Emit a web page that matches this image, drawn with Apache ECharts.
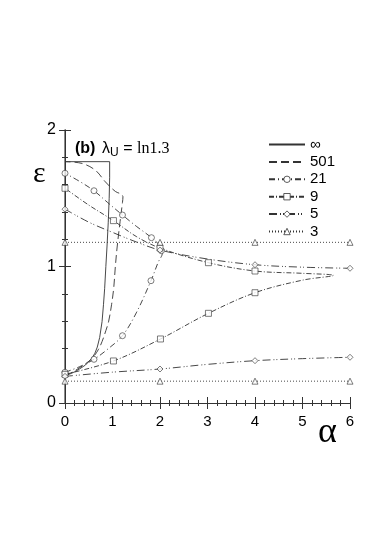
<!DOCTYPE html>
<html><head><meta charset="utf-8">
<script src="https://cdn.jsdelivr.net/npm/echarts@6/dist/echarts.min.js"></script>
<style>html,body{margin:0;padding:0;background:#fff}#c{width:391px;height:559px}</style>
</head><body><div id="c"></div>
<script>
// ---- data (alpha, epsilon) ----
const xTicks = [0,1,2,3,4,5,6];
const yTicks = [0,1,2];
const legendNames = ['∞','501','21','9','5','3'];

// N = infinity (solid)
const curveInf = [[0,0.2],[0.1,0.212],[0.2,0.228],[0.3,0.248],[0.43,0.278],[0.55,0.32],[0.63,0.365],[0.68,0.41],[0.73,0.48],[0.78,0.596],[0.81,0.72],[0.835,0.84],[0.86,1.0],[0.885,1.15],[0.91,1.32],[0.93,1.5],[0.94,1.65],[0.94,1.768],[0,1.768]];
// N = 501 (dashed)
const curve501 = [[0,0.2],[0.2,0.235],[0.4,0.28],[0.57,0.327],[0.7,0.39],[0.78,0.45],[0.86,0.53],[0.92,0.6],[0.98,0.72],[1.025,0.84],[1.06,1.0],[1.1,1.15],[1.16,1.33],[1.21,1.47],[1.22,1.51],[1.18,1.53],[1.06,1.55],[0.85,1.62],[0.64,1.705],[0.36,1.755],[0,1.768]];
// N = 21 (circles)
const curve21 = [[0,0.225],[0.3,0.265],[0.61,0.32],[0.9,0.395],[1.21,0.493],[1.5,0.66],[1.81,0.896],[1.96,1.03],[2.05,1.1],[2.04,1.13],[1.82,1.211],[1.5,1.295],[1.21,1.377],[0.9,1.468],[0.61,1.555],[0.3,1.625],[0,1.683]];
const marks21 = [[0,0.225],[0.61,0.32],[1.21,0.493],[1.81,0.896],[0,1.683],[0.61,1.555],[1.21,1.377],[1.82,1.211],[2.03,1.116]];
// N = 9 (squares)
const curve9 = [[0,0.21],[1.02,0.308],[2.01,0.469],[3.02,0.657],[4,0.808],[5,0.9],[5.65,0.935],[5,0.95],[4,0.967],[3.02,1.028],[2,1.135],[1.5,1.22],[1.02,1.336],[0.5,1.45],[0,1.573]];
const marks9 = [[0,0.21],[1.02,0.308],[2.01,0.469],[3.02,0.657],[4,0.808],[0,1.573],[1.02,1.336],[2,1.135],[3.02,1.028],[4,0.967]];
// N = 5 (diamonds), two branches
const curve5Upper = [[0,1.42],[0.5,1.325],[1,1.25],[1.5,1.18],[2,1.12],[3,1.055],[4,1.013],[5,0.995],[6,0.987]];
const curve5Lower = [[0,0.195],[1,0.226],[2,0.249],[3,0.283],[4,0.31],[5,0.325],[6,0.335]];
const marks5 = [[0,1.42],[2,1.12],[4,1.013],[6,0.987],[0,0.195],[2,0.249],[4,0.31],[6,0.335]];
// N = 3 (triangles), two branches
const curve3Upper = [[0,1.177],[6,1.177]];
const curve3Lower = [[0,0.16],[6,0.16]];
const marks3 = [[0,1.177],[2,1.177],[4,1.177],[6,1.177],[0,0.16],[2,0.16],[4,0.16],[6,0.16]];

const C = '#333';
function lineS(name, data, dash, sym){
  return {type:'line', name, data, smooth:false, symbol:sym||'circle', showSymbol:false, symbolSize:6,
    itemStyle:{color:'#fff', borderColor:C, borderWidth:0.8},
    lineStyle:{color:C, width:0.9, type:dash}, silent:true, animation:false, z:2};
}
function smoothS(name, data, dash, sym){ const s=lineS(name,data,dash,sym); s.smooth=0.35; return s; }
function markS(name, data, sym){
  return {type:'scatter', name, data, symbol:sym, symbolSize:6,
    itemStyle:{color:'#fff', borderColor:C, borderWidth:0.8}, silent:true, animation:false, z:3};
}

const dash501=[8,4], dash21=[6,3,1,3], dash9=[5,2,1,2], dash5=[8,3,1,2,1,3], dot3=[1,2];
const series = [
  lineS(legendNames[0], curveInf, 'solid'),
  smoothS(legendNames[1], curve501, dash501),
  smoothS(legendNames[2], curve21, dash21, 'circle'),
  smoothS(legendNames[3], curve9, dash9, 'rect'),
  smoothS(legendNames[4], curve5Upper, dash5, 'diamond'),
  smoothS(legendNames[4], curve5Lower, dash5, 'diamond'),
  lineS(legendNames[5], curve3Upper, dot3, 'triangle'),
  lineS(legendNames[5], curve3Lower, dot3, 'triangle'),
  markS(legendNames[2], marks21, 'circle'),
  markS(legendNames[3], marks9, 'rect'),
  markS(legendNames[4], marks5, 'diamond'),
  markS(legendNames[5], marks3, 'triangle'),
];

const hidden = {color:'rgba(0,0,0,0)', borderColor:'rgba(0,0,0,0)', borderWidth:0};
const shown = {color:'#fff', borderColor:C, borderWidth:0.8};
const legendData = legendNames.map((n,i)=>({name:n, itemStyle: i<2 ? hidden : shown}));

const axisCommon = {
  min:0, interval:1,
  axisLine:{show:true, lineStyle:{color:C, width:1}},
  axisTick:{show:true, inside:true, length:6, lineStyle:{color:C}},
  minorTick:{show:true, splitNumber:5, length:3, lineStyle:{color:C}},
  splitLine:{show:false}, minorSplitLine:{show:false}
};
const F = 'Liberation Sans, Arial, sans-serif';
const chart = echarts.init(document.getElementById('c'), null, {renderer:'canvas'});
chart.setOption({
  animation:false,
  backgroundColor:'#fff',
  grid:{left:65, right:41, top:130, bottom:156},
  xAxis:[
    Object.assign({}, axisCommon, {type:'value', max:xTicks[xTicks.length-1], position:'bottom',
      axisLabel:{show:true, margin:11, fontSize:15, color:'#000', fontFamily:F, formatter:v=>String(v)}}),
    Object.assign({}, axisCommon, {type:'value', max:xTicks[xTicks.length-1], position:'top', axisLabel:{show:false}})
  ],
  yAxis:[
    Object.assign({}, axisCommon, {type:'value', max:yTicks[yTicks.length-1], position:'left',
      axisLine:{show:true, lineStyle:{color:'#666', width:1.5}},
      axisLabel:{show:true, margin:9, fontSize:16, color:'#000', fontFamily:F, formatter:v=>String(v)}}),
    Object.assign({}, axisCommon, {type:'value', max:yTicks[yTicks.length-1], position:'right', axisLabel:{show:false}})
  ],
  legend:{
    data:legendData, orient:'vertical', left:263, top:132,
    itemWidth:36, itemHeight:8, itemGap:2.4,
    textStyle:{fontSize:15, color:'#000', fontFamily:F},
    selectedMode:false
  },
  graphic:[
    {type:'text', left:75, top:141, style:{
      text:'{b|(b)}  {n|λ}{s|U}{n| = }{t|ln1.3}',
      rich:{
        b:{fontSize:16, fontWeight:'bold', fontFamily:F, fill:'#000'},
        n:{fontSize:16, fontFamily:F, fill:'#000'},
        s:{fontSize:12, fontFamily:F, fill:'#000', padding:[8,0,0,0]},
        t:{fontSize:16, fontFamily:'Liberation Serif, Times New Roman, serif', fill:'#000'}
      }}},
    {type:'text', left:33, top:159, style:{text:'ε', fontSize:30, fontFamily:'Liberation Serif, serif', fill:'#000'}},
    {type:'text', left:318, top:415, style:{text:'α', fontSize:36, fontFamily:'Liberation Serif, serif', fill:'#000'}}
  ],
  series
});
</script></body></html>
